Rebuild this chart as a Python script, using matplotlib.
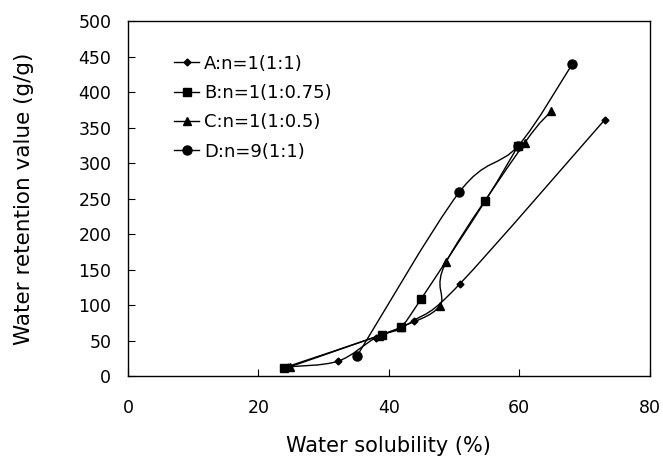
import numpy as np
import matplotlib
matplotlib.use("Agg")
import matplotlib.pyplot as plt
from matplotlib.path import Path
from matplotlib.patches import PathPatch
from matplotlib.lines import Line2D

# Data
a_x = [24.5, 32.2, 38.0, 43.8, 50.9, 73.1]
a_y = [13, 21, 54, 78, 130, 361]
b_x = [24.0, 38.9, 41.8, 44.9, 54.8, 59.8]
b_y = [12, 58, 69, 108, 247, 324]
c_x = [24.8, 38.5, 41.9, 47.8, 48.8, 60.8, 64.9]
c_y = [13, 57, 69, 99, 161, 328, 373]
d_x = [35.1, 50.8, 59.8, 68.1]
d_y = [28, 259, 324, 439]

labels = ["A:n=1(1:1)", "B:n=1(1:0.75)", "C:n=1(1:0.5)", "D:n=9(1:1)"]
markers = ["D", "s", "^", "o"]
msizes = [3.5, 6, 6, 6.5]
x_ticks = [0, 20, 40, 60, 80]
y_ticks = list(range(0, 501, 50))

plt.rcParams['font.family'] = ['DejaVu Sans']

fig = plt.figure(figsize=(6.63, 4.57), dpi=100)
ax = fig.add_axes([0.193, 0.177, 0.787, 0.777])


def smooth_path(xs, ys, k=1/6):
    pts = np.column_stack([xs, ys]).astype(float)
    n = len(pts)
    verts = [pts[0]]
    codes = [Path.MOVETO]
    for i in range(n - 1):
        p0 = pts[i - 1] if i > 0 else pts[i]
        p1 = pts[i]
        p2 = pts[i + 1]
        p3 = pts[i + 2] if i + 2 < n else pts[i + 1]
        c1 = p1 + (p2 - p0) * k
        c2 = p2 - (p3 - p1) * k
        verts += [c1, c2, p2]
        codes += [Path.CURVE4] * 3
    return Path(verts, codes)


series = [(a_x, a_y), (b_x, b_y), (c_x, c_y), (d_x, d_y)]
handles = []
for (xs, ys), lab, m, ms in zip(series, labels, markers, msizes):
    patch = PathPatch(smooth_path(xs, ys), facecolor='none', edgecolor='black', lw=1.0)
    ax.add_patch(patch)
    ax.plot(xs, ys, linestyle='none', marker=m, ms=ms, color='black')
    handles.append(Line2D([], [], color='black', lw=1.0, marker=m, ms=ms, label=lab))

ax.set_xlim(0, 80)
ax.set_ylim(0, 500)
ax.set_xticks(x_ticks)
ax.set_yticks(y_ticks)
ax.tick_params(direction='in', labelsize=12.5, length=5)
ax.tick_params(axis='x', pad=16.5)
ax.tick_params(axis='y', pad=12)
for s in ax.spines.values():
    s.set_linewidth(1.0)

ax.set_xlabel("Water solubility (%)", fontsize=15, labelpad=14)
ax.set_ylabel("Water retention value (g/g)", fontsize=15.5, labelpad=32)

ax.legend(handles=handles, loc='upper left', bbox_to_anchor=(0.057, 0.951),
          frameon=False, fontsize=13, handlelength=1.4, handletextpad=0.28,
          labelspacing=0.63)

fig.savefig("out.png", dpi=100)
